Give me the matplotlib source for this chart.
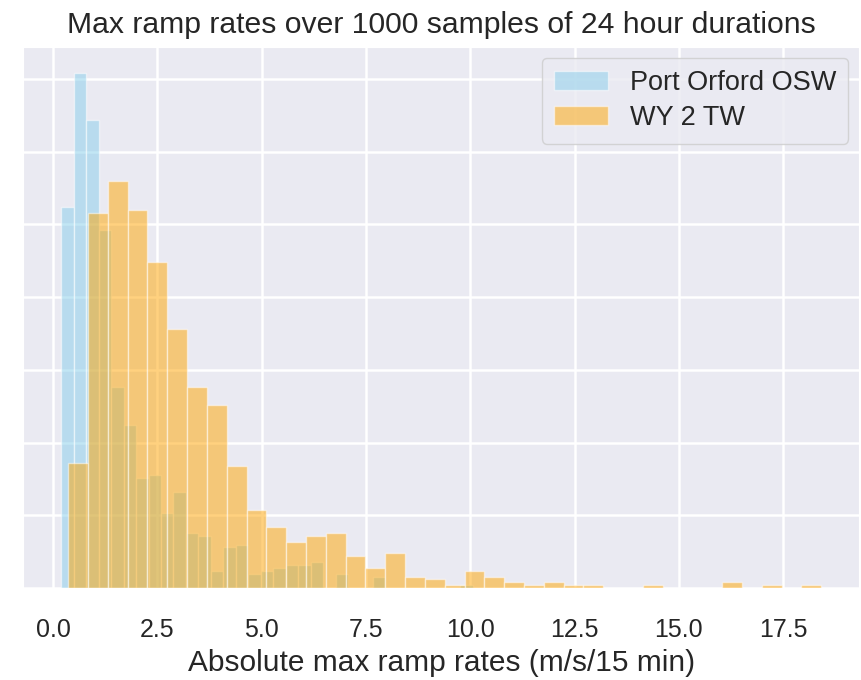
import numpy as np
import matplotlib
matplotlib.use("Agg")
import matplotlib.pyplot as plt
import seaborn as sns

# histogram counts (1000 samples each)
port_orford_start = 0.196
port_orford_width = 0.2988
port_orford_counts = [131, 177, 161, 123, 69, 56, 38, 39, 26, 33,
                      19, 18, 6, 14, 15, 5, 6, 7, 8, 8,
                      9, 0, 5, 0, 0, 4, 0, 0, 0, 0,
                      0, 0, 1]

wy2_start = 0.363
wy2_width = 0.475
wy2_counts = [43, 129, 140, 130, 112, 89, 69, 63, 42, 27,
              21, 16, 18, 19, 11, 7, 12, 4, 3, 1,
              6, 4, 2, 1, 2, 1, 1, 0, 0, 1,
              0, 0, 0, 2, 0, 1, 0, 1]

xticks = [0.0, 2.5, 5.0, 7.5, 10.0, 12.5, 15.0, 17.5]
yticks = [0, 25, 50, 75, 100, 125, 150, 175]

sns.set_style("darkgrid")
plt.rcParams['font.family'] = ['Liberation Sans', 'DejaVu Sans']
plt.rcParams['grid.linewidth'] = 1.8

fig = plt.figure(figsize=(8.61, 6.80), dpi=100)
ax = fig.add_axes([0.027, 0.135, 0.971, 0.796])


def edges_of(start, width, counts):
    return start + width * np.arange(len(counts) + 1)


po_edges = edges_of(port_orford_start, port_orford_width, port_orford_counts)
wy_edges = edges_of(wy2_start, wy2_width, wy2_counts)

ax.hist(po_edges[:-1] + port_orford_width / 2, bins=po_edges, weights=port_orford_counts,
        color='skyblue', alpha=0.5, edgecolor='white', linewidth=1.0,
        label='Port Orford OSW')
ax.hist(wy_edges[:-1] + wy2_width / 2, bins=wy_edges, weights=wy2_counts,
        color='orange', alpha=0.5, edgecolor='white', linewidth=1.0,
        label='WY 2 TW')

ax.set_xticks(xticks)
ax.set_xticklabels(['%.1f' % t for t in xticks])
ax.set_yticks(yticks)
ax.tick_params(axis='y', labelleft=False)
ax.tick_params(axis='x', labelsize=18, pad=18)
ax.set_ylim(0, 186)

ax.set_title('Max ramp rates over 1000 samples of 24 hour durations', fontsize=21.7, pad=10)
ax.set_xlabel('Absolute max ramp rates (m/s/15 min)', fontsize=21.5, labelpad=5)
ax.legend(loc='upper right', fontsize=19.5, handlelength=2.0, borderpad=0.45,
          labelspacing=0.35, borderaxespad=0.4)

fig.savefig('out.png', dpi=100)
